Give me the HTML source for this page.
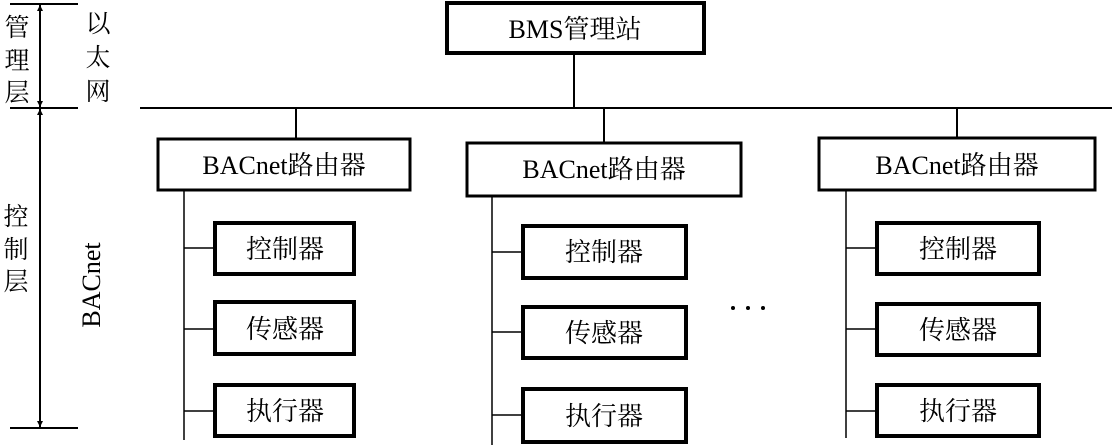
<!DOCTYPE html>
<html><head><meta charset="utf-8"><style>
html,body{margin:0;padding:0;background:#fff;width:1112px;height:445px;overflow:hidden}
svg{display:block}
text{font-family:"Liberation Serif","Noto Serif CJK SC","Noto Sans CJK SC",serif;fill:#000}
</style></head><body>
<svg width="1112" height="445" viewBox="0 0 1112 445" xmlns="http://www.w3.org/2000/svg">
<defs><marker id="a" viewBox="0 0 10 10" refX="10" refY="5" markerWidth="6" markerHeight="14" orient="auto-start-reverse" markerUnits="userSpaceOnUse"><path d="M0,0 L10,5 L0,10 Z" fill="#000"/></marker></defs>
<g stroke="#000" fill="none">
<!-- left annotation -->
<line x1="10" y1="4" x2="78" y2="4" stroke-width="2"/>
<line x1="10" y1="108" x2="78" y2="108" stroke-width="2"/>
<line x1="10" y1="428" x2="78" y2="428" stroke-width="2"/>
<line x1="40" y1="5" x2="40" y2="107" stroke-width="2" marker-start="url(#a)" marker-end="url(#a)"/>
<line x1="40" y1="109" x2="40" y2="427" stroke-width="2" marker-start="url(#a)" marker-end="url(#a)"/>
<!-- bus -->
<line x1="140" y1="108" x2="1112" y2="108" stroke-width="2"/>
<rect x="447" y="3" width="257" height="50" stroke-width="4"/>
<line x1="574" y1="53" x2="574" y2="108" stroke-width="2"/>
<!-- router 1 -->
<line x1="296" y1="108" x2="296" y2="138" stroke-width="2"/>
<rect x="158" y="139" width="252" height="51" stroke-width="3"/>
<line x1="184" y1="190" x2="184" y2="440" stroke-width="1.5"/>
<line x1="184" y1="248" x2="215" y2="248" stroke-width="1.5"/>
<line x1="184" y1="329" x2="215" y2="329" stroke-width="1.5"/>
<line x1="184" y1="411" x2="215" y2="411" stroke-width="1.5"/>
<rect x="215" y="223" width="139" height="51" stroke-width="4"/>
<rect x="215" y="302" width="139" height="52" stroke-width="4"/>
<rect x="215" y="385" width="139" height="51" stroke-width="4"/>
<!-- router 2 -->
<line x1="604" y1="108" x2="604" y2="142" stroke-width="2"/>
<rect x="467" y="143" width="274" height="53" stroke-width="3"/>
<line x1="492" y1="196" x2="492" y2="445" stroke-width="1.5"/>
<line x1="492" y1="252" x2="523" y2="252" stroke-width="1.5"/>
<line x1="492" y1="332" x2="523" y2="332" stroke-width="1.5"/>
<line x1="492" y1="415" x2="523" y2="415" stroke-width="1.5"/>
<rect x="523" y="226" width="163" height="52" stroke-width="4"/>
<rect x="523" y="307" width="163" height="51" stroke-width="4"/>
<rect x="523" y="389" width="163" height="53" stroke-width="4"/>
<!-- router 3 -->
<line x1="957" y1="108" x2="957" y2="137" stroke-width="2"/>
<rect x="819" y="138" width="276" height="52" stroke-width="3"/>
<line x1="846" y1="190" x2="846" y2="438" stroke-width="1.5"/>
<line x1="846" y1="248" x2="877" y2="248" stroke-width="1.5"/>
<line x1="846" y1="329" x2="877" y2="329" stroke-width="1.5"/>
<line x1="846" y1="411" x2="877" y2="411" stroke-width="1.5"/>
<rect x="877" y="223" width="162" height="51" stroke-width="4"/>
<rect x="877" y="304" width="162" height="51" stroke-width="4"/>
<rect x="877" y="385" width="162" height="51" stroke-width="4"/>
</g>
<g fill="#000"><circle cx="733" cy="308" r="2"/><circle cx="748" cy="308" r="2"/><circle cx="763" cy="308" r="2"/></g>
<!-- labels -->
<g font-size="26" text-anchor="middle">
<text x="17" y="36" font-size="25">管</text>
<text x="17" y="69" font-size="25">理</text>
<text x="17" y="101" font-size="25">层</text>
<text x="98" y="32" font-size="25">以</text>
<text x="98" y="66" font-size="25">太</text>
<text x="98" y="100" font-size="25">网</text>
<text x="16" y="225" font-size="25">控</text>
<text x="16" y="258" font-size="25">制</text>
<text x="16" y="290" font-size="25">层</text>
<text transform="translate(100,285) rotate(-90)" x="0" y="0" font-size="26">BACnet</text>
<text x="575" y="38">BMS管理站</text>
<text x="284" y="174">BACnet路由器</text>
<text x="604" y="178">BACnet路由器</text>
<text x="957" y="174">BACnet路由器</text>
</g>
<g font-size="26" text-anchor="middle">
<text x="285" y="258">控制器</text>
<text x="285" y="338">传感器</text>
<text x="285" y="420">执行器</text>
<text x="604" y="261">控制器</text>
<text x="604" y="342">传感器</text>
<text x="604" y="425">执行器</text>
<text x="958" y="258">控制器</text>
<text x="958" y="339">传感器</text>
<text x="958" y="420">执行器</text>
</g>
</svg>
</body></html>
